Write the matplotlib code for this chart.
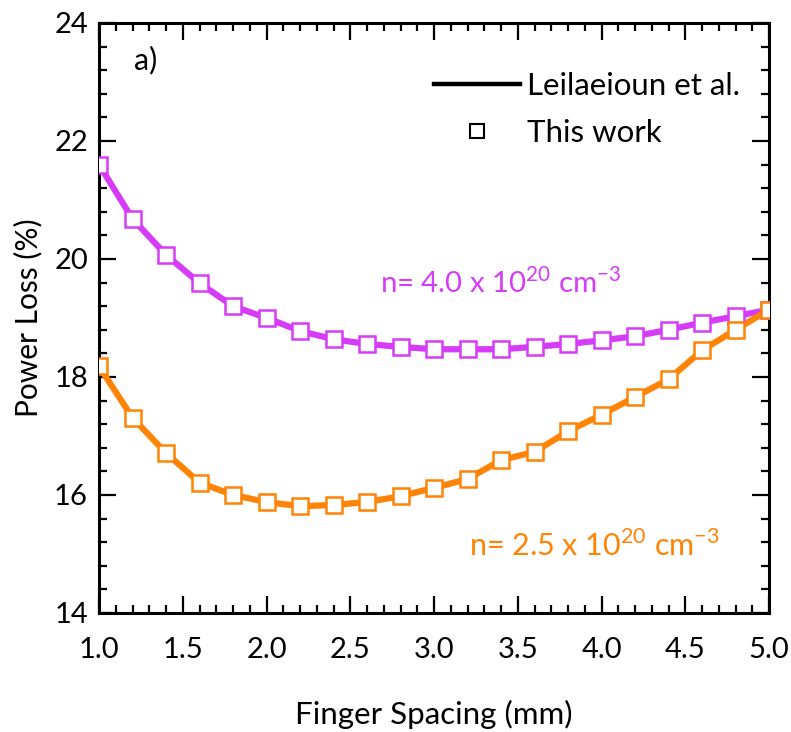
import numpy as np
import matplotlib
matplotlib.use("Agg")
import matplotlib.pyplot as plt
from matplotlib.lines import Line2D
from matplotlib.ticker import MultipleLocator

plt.rcParams['font.family'] = ['Lato', 'DejaVu Sans']
plt.rcParams['mathtext.fontset'] = 'custom'
plt.rcParams['mathtext.rm'] = 'Lato'

spacing = [1.0, 1.2, 1.4, 1.6, 1.8, 2.0, 2.2, 2.4, 2.6, 2.8, 3.0,
           3.2, 3.4, 3.6, 3.8, 4.0, 4.2, 4.4, 4.6, 4.8, 5.0]
loss_n40 = [21.60, 20.68, 20.07, 19.59, 19.20, 19.00, 18.78, 18.64, 18.56, 18.51, 18.47,
            18.47, 18.47, 18.51, 18.56, 18.62, 18.69, 18.80, 18.92, 19.03, 19.14]
loss_n25 = [18.18, 17.31, 16.71, 16.21, 16.00, 15.88, 15.81, 15.83, 15.88, 15.98, 16.12,
            16.27, 16.59, 16.73, 17.08, 17.36, 17.66, 17.96, 18.45, 18.80, 19.14]

purple = '#D63CF8'
orange = '#FF8406'

fig = plt.figure(figsize=(7.91, 7.32), dpi=100)
ax = fig.add_axes([0.1252, 0.1626, 0.847, 0.806])

for vals, col in [(loss_n40, purple), (loss_n25, orange)]:
    ax.plot(spacing, vals, color=col, lw=4.5, zorder=2)
    ax.plot(spacing, vals, ls='none', marker='s', ms=11, mfc='white',
            mec=col, mew=1.8, zorder=3)

ax.set_xlim(1.0, 5.0)
ax.set_ylim(14, 24)
ax.xaxis.set_major_locator(MultipleLocator(0.5))
ax.xaxis.set_minor_locator(MultipleLocator(0.1))
ax.yaxis.set_major_locator(MultipleLocator(2))
ax.yaxis.set_minor_locator(MultipleLocator(0.4))
ax.tick_params(which='both', direction='in', top=True, right=True,
               labelsize=21, width=1.6)
ax.tick_params(which='major', length=12)
ax.tick_params(which='minor', length=6)
ax.tick_params(axis='x', pad=17)
ax.tick_params(axis='y', pad=8)
ax.xaxis.set_major_formatter(matplotlib.ticker.FormatStrFormatter('%.1f'))
for s in ax.spines.values():
    s.set_linewidth(2.2)

ax.set_xlabel('Finger Spacing (mm)', fontsize=22.5, labelpad=27)
ax.set_ylabel('Power Loss (%)', fontsize=21.5, labelpad=8)

ax.text(1.21, 23.37, 'a)', fontsize=22, va='center', ha='left')
ax.text(2.68, 19.6, 'n= 4.0 x 10$^{20}$ cm$^{-3}$', color=purple,
        fontsize=21.2, va='center', ha='left')
ax.text(3.21, 15.15, 'n= 2.5 x 10$^{20}$ cm$^{-3}$', color=orange,
        fontsize=22, va='center', ha='left')

handles = [Line2D([], [], color='black', lw=3.2),
           Line2D([], [], ls='none', marker='s', ms=10, mfc='white',
                  mec='black', mew=1.5)]
ax.legend(handles, ['Leilaeioun et al.', 'This work'], loc='upper right',
          bbox_to_anchor=(0.975, 0.938), frameon=False, fontsize=22.5,
          handlelength=2.75, handletextpad=0.22, labelspacing=0.6,
          borderaxespad=0.0)

fig.savefig('out.png', dpi=100)
